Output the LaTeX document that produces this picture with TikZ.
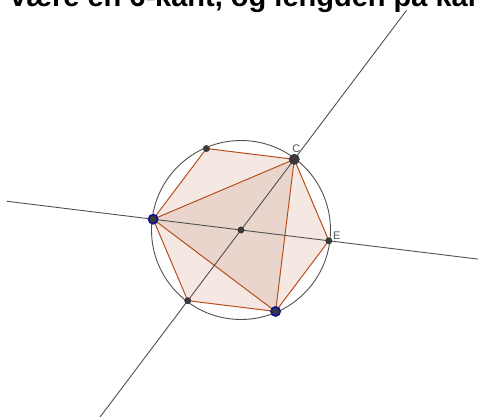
\documentclass[tikz,border=0pt]{standalone}
\usepackage{fontspec}
\setmainfont{Liberation Sans}
\definecolor{edgebrown}{HTML}{B5501E}
\definecolor{hexfill}{HTML}{F5E8E3}
\definecolor{trifill}{HTML}{E9D5CB}
\definecolor{linegray}{HTML}{505050}
\definecolor{dotgray}{HTML}{3A3A3A}
\definecolor{ringblue}{HTML}{14148C}
\begin{document}
\begin{tikzpicture}[
    x=1pt, y=1pt,
    axis/.style={draw=linegray, line width=0.9pt},
    side/.style={draw=edgebrown, line width=1pt},
    dot/.style={circle, fill=dotgray, inner sep=0pt, minimum size=7pt},
    bigdot/.style={dot, minimum size=11pt},
    bluedot/.style={circle, fill=dotgray, draw=ringblue, line width=1.8pt, inner sep=0pt, minimum size=9pt},
    lbl/.style={text=linegray, inner sep=0pt, font=\fontsize{11}{11}\selectfont}
]
\useasboundingbox (0,0) rectangle (478,416);
\clip (0,0) rectangle (478,416);
% centre and the six corners
\coordinate (O) at (241,186);
\foreach \name/\ang in {E/-7, C/53, T/113, A/173, D/233, B/293}
    \coordinate (\name) at ([shift={(\ang:88.5)}]O);
% ends of the two lines
\coordinate (La) at ([shift={(173:236)}]O);
\coordinate (Lb) at ([shift={(-7:240)}]O);
\coordinate (Ma) at ([shift={(53:275)}]O);
\coordinate (Mb) at ([shift={(233:250)}]O);
% heading, cut by the edge
\node[anchor=base west, inner sep=0pt, font=\bfseries\fontsize{29}{29}\selectfont] (title) at (10,409) {være en 6-kant, og lengden på kan};
% fills
\fill[hexfill] (A) -- (T) -- (C) -- (E) -- (B) -- (D) -- cycle;
\fill[trifill] (A) -- (C) -- (B) -- cycle;
\draw[side] (A) -- (T) -- (C) -- (E) -- (B) -- (D) -- cycle;
\draw[side] (A) -- (C) -- (B) -- cycle;
\draw[axis] (O) circle (89.5);
\draw[axis] (La) -- (Lb);
\draw[axis] (Ma) -- (Mb);
% points
\node[dot] (pO) at (O) {};
\node[dot] (pT) at (T) {};
\node[dot] (pE) at (E) {};
\node[dot] (pD) at (D) {};
\node[bigdot] (pC) at (C) {};
\node[bluedot] (pA) at (A) {};
\node[bluedot] (pB) at (B) {};
\node[lbl, anchor=south west] (lC) at ([shift={(-2,7)}]C) {C};
\node[lbl, anchor=south west] (lE) at ([shift={(4,1)}]E) {E};
\end{tikzpicture}
\end{document}
